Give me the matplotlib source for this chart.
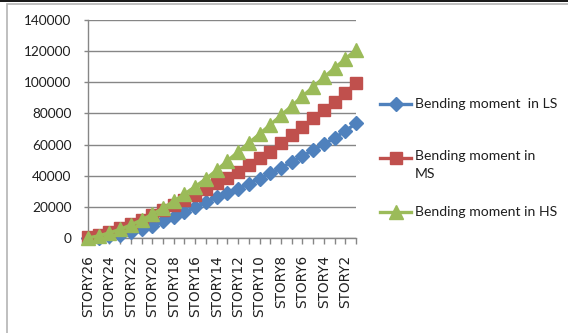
import matplotlib
matplotlib.use("Agg")
import matplotlib.pyplot as plt
from matplotlib.lines import Line2D
from matplotlib.patches import Rectangle

# Storeys from top (STORY26) down to STORY1
stories = [f"STORY{n}" for n in range(26, 0, -1)]

moment_ls = [0, 300, 1000, 2000, 3600, 5600, 8000, 10600, 13400, 16500,
             19800, 23000, 26400, 28900, 31600, 34800, 38200, 41500, 45000,
             48800, 52600, 56400, 60200, 64300, 68700, 73600]
moment_ms = [500, 2000, 3800, 6200, 8900, 11700, 14600, 17700, 20900, 24300,
             27900, 31500, 35200, 38800, 42600, 46800, 51100, 55400, 60700,
             66100, 71400, 76800, 82100, 87500, 93300, 99300]
moment_hs = [0, 1400, 3300, 5600, 8400, 11600, 15200, 19200, 23600, 28200,
             33000, 38000, 43500, 49500, 55300, 61000, 66800, 72700, 78700,
             84800, 90900, 97000, 103100, 109100, 115000, 120800]

series_labels = ["Bending moment  in LS", "Bending moment in\nMS",
                 "Bending moment in HS"]
y_ticks = list(range(0, 140001, 20000))

BLUE, RED, GREEN = "#4F81BD", "#C0504D", "#9BBB59"
GRID = "#868686"
TXT = "#1f1f1f"
FONT = "Lato"

W, H = 568, 333
fig = plt.figure(figsize=(W / 100, H / 100), dpi=100)
fig.patch.set_facecolor("white")

# outer chart frame and dark top edge
fig.add_artist(Rectangle((7 / W, -0.05), 1.2, (H - 4) / H + 0.05,
                         transform=fig.transFigure, fill=False,
                         edgecolor="#b4b4b4", lw=1.2))
fig.add_artist(Rectangle((0, 1 - 2.2 / H), 1, 2.2 / H,
                         transform=fig.transFigure, color="#1a1a1a", lw=0))

ax = fig.add_axes([88 / W, 1 - 238 / H, (356 - 88) / W, (238 - 20) / H])
x = list(range(len(stories)))

ax.plot(x, moment_ls, color=BLUE, lw=2.4, marker="D", ms=7, mec=BLUE,
        mfc=BLUE, zorder=3, clip_on=False)
ax.plot(x, moment_ms, color=RED, lw=2.4, marker="s", ms=8, mec=RED,
        mfc=RED, zorder=4, clip_on=False)
ax.plot(x, moment_hs, color=GREEN, lw=2.4, marker="^", ms=9.5, mec=GREEN,
        mfc=GREEN, zorder=5, clip_on=False)

ax.set_xlim(0, len(stories) - 1)
ax.set_ylim(0, 140000)
ax.set_yticks(y_ticks)
ax.set_yticklabels([str(v) for v in y_ticks], fontfamily=FONT, fontsize=9.8,
                   color=TXT)
ax.set_xticks(x)
ax.set_xticklabels([s if i % 2 == 0 else "" for i, s in enumerate(stories)],
                   rotation=90, fontfamily="DejaVu Sans", fontsize=9.8,
                   color=TXT, va="top", ha="center")

ax.grid(axis="y", color=GRID, lw=1.0, zorder=0)
ax.set_axisbelow(True)
for side in ("top", "right"):
    ax.spines[side].set_visible(False)
for side in ("left", "bottom"):
    ax.spines[side].set_color(GRID)
    ax.spines[side].set_linewidth(1.0)
ax.tick_params(axis="y", length=3, width=1, color=GRID, pad=9)
ax.tick_params(axis="x", length=4.5, width=1, color=GRID, pad=8)

# legend, drawn in figure pixels
def legend_entry(ypix, color, marker, ms, label, top=None):
    y = 1 - ypix / H
    fig.add_artist(Line2D([380 / W, 411 / W], [y, y], color=color, lw=2.4,
                          transform=fig.transFigure))
    fig.add_artist(Line2D([395.5 / W], [y], color=color, marker=marker, ms=ms,
                          mec=color, mfc=color, transform=fig.transFigure))
    if top is None:
        fig.text(415 / W, y, label, fontfamily=FONT, fontsize=10.1,
                 color=TXT, va="center")
    else:
        fig.text(415 / W, 1 - top / H, label, fontfamily=FONT, fontsize=10.1,
                 color=TXT, va="top", linespacing=1.55)

legend_entry(104, BLUE, "D", 7, series_labels[0])
legend_entry(158, RED, "s", 8, series_labels[1], top=150)
legend_entry(212, GREEN, "^", 9.5, series_labels[2])

fig.savefig("out.png", dpi=100)
